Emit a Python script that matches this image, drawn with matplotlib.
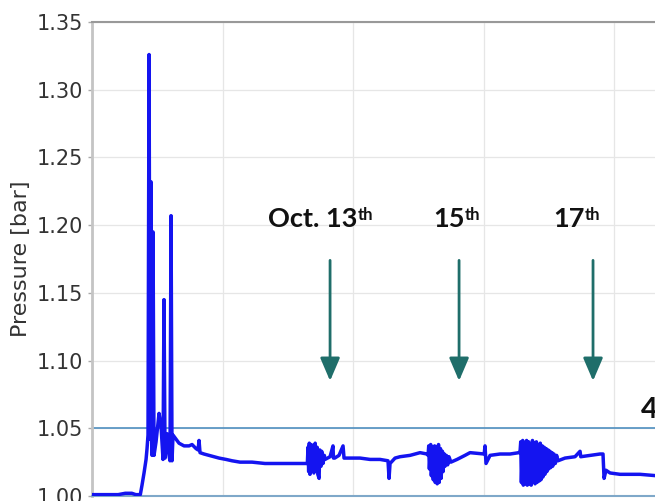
import matplotlib
matplotlib.use('Agg')
import matplotlib.pyplot as plt

# time in days from the start of the record, pressure in bar
start_days = [0.00, 0.28, 0.40, 0.51, 0.61, 0.67, 0.74, 0.766, 0.797, 0.828, 0.843,
              0.858, 0.874, 0.889, 0.904, 0.920, 0.935, 0.950, 0.981, 1.027, 1.057,
              1.088, 1.103, 1.119, 1.149, 1.180, 1.195, 1.211, 1.226, 1.241, 1.272,
              1.333, 1.410, 1.487, 1.533, 1.594, 1.625, 1.640, 1.655, 1.716, 1.793,
              1.870, 1.946, 2.054, 2.146, 2.268, 2.452, 2.651, 2.881, 3.065, 3.188,
              3.280]
start_bar = [1.001, 1.001, 1.001, 1.002, 1.002, 1.001, 1.001, 1.008, 1.017, 1.027, 1.035,
             1.045, 1.326, 1.042, 1.232, 1.030, 1.195, 1.030, 1.040, 1.061, 1.052,
             1.027, 1.145, 1.028, 1.046, 1.030, 1.026, 1.207, 1.026, 1.045, 1.043,
             1.039, 1.037, 1.037, 1.038, 1.035, 1.034, 1.041, 1.032, 1.031, 1.030,
             1.029, 1.028, 1.027, 1.026, 1.025, 1.025, 1.024, 1.024, 1.024, 1.024,
             1.024]

burst1_days = [3.30, 3.31, 3.32, 3.33, 3.34, 3.36, 3.37, 3.39, 3.40, 3.42, 3.43, 3.45,
               3.46, 3.48, 3.49, 3.51, 3.52, 3.54, 3.56]
burst1_bar = [1.024, 1.036, 1.018, 1.039, 1.016, 1.038, 1.019, 1.037, 1.017, 1.039,
              1.020, 1.036, 1.016, 1.013, 1.034, 1.022, 1.033, 1.024, 1.030]

mid1_days = [3.571, 3.648, 3.693, 3.700, 3.720, 3.785, 3.847, 3.862, 3.954, 4.107,
             4.261, 4.414, 4.536, 4.552, 4.567, 4.644, 4.720, 4.874, 5.027, 5.134]
mid1_bar = [1.027, 1.029, 1.037, 1.028, 1.028, 1.030, 1.037, 1.028, 1.028, 1.028,
            1.027, 1.027, 1.026, 1.013, 1.024, 1.028, 1.029, 1.030, 1.032, 1.031]

burst2_days = [5.15, 5.16, 5.17, 5.19, 5.20, 5.22, 5.23, 5.25, 5.26, 5.28, 5.29, 5.31,
               5.32, 5.34, 5.35, 5.37, 5.38, 5.40, 5.41, 5.43, 5.45, 5.47, 5.50]
burst2_bar = [1.030, 1.037, 1.020, 1.038, 1.015, 1.036, 1.012, 1.037, 1.010, 1.036,
              1.009, 1.038, 1.010, 1.035, 1.013, 1.033, 1.018, 1.031, 1.022, 1.030,
              1.023, 1.029, 1.025]

mid2_days = [5.594, 5.716, 5.793, 6.010, 6.023, 6.038, 6.100, 6.253, 6.406, 6.544]
mid2_bar = [1.027, 1.030, 1.032, 1.031, 1.037, 1.024, 1.030, 1.031, 1.031, 1.032]

burst3_days = [6.56, 6.57, 6.58, 6.60, 6.61, 6.63, 6.64, 6.66, 6.67, 6.69, 6.70, 6.72,
               6.73, 6.75, 6.76, 6.78, 6.79, 6.81, 6.82, 6.84, 6.85, 6.87, 6.88, 6.90,
               6.91, 6.93, 6.94, 6.96, 6.97, 6.99, 7.00, 7.02, 7.03, 7.05, 7.06, 7.08,
               7.10, 7.12, 7.14]
burst3_bar = [1.033, 1.040, 1.010, 1.041, 1.008, 1.039, 1.009, 1.041, 1.008, 1.040,
              1.009, 1.038, 1.008, 1.041, 1.010, 1.039, 1.009, 1.040, 1.010, 1.038,
              1.011, 1.039, 1.012, 1.037, 1.014, 1.036, 1.016, 1.035, 1.018, 1.034,
              1.020, 1.033, 1.021, 1.032, 1.022, 1.031, 1.024, 1.030, 1.026]

end_days = [7.249, 7.402, 7.479, 7.490, 7.632, 7.785, 7.831, 7.847, 7.877, 7.939,
            8.092, 8.398, 8.628, 9.500]
end_bar = [1.028, 1.029, 1.033, 1.029, 1.030, 1.031, 1.031, 1.013, 1.019, 1.017,
           1.016, 1.016, 1.015, 1.015]

days = start_days + burst1_days + mid1_days + burst2_days + mid2_days + burst3_days + end_days
pressure = start_bar + burst1_bar + mid1_bar + burst2_bar + mid2_bar + burst3_bar + end_bar

# event markers
event_days = [3.648, 5.625, 7.678]
event_labels = ['Oct. 13', '15', '17']
label_days = [2.70, 5.23, 7.07]
arrow_top = 1.174
arrow_tip = 1.085
label_base = 1.1986
limit_bar = 1.05

ARROW_COLOR = '#1f6e6a'

fig = plt.figure(figsize=(6.55, 5.01), dpi=100)
ax = fig.add_axes([0.1405, 0.010, 0.9962, 0.946])

ax.plot(days, pressure, color='#1414f0', lw=2.5, zorder=3)
ax.axhline(limit_bar, color='#4f8fc0', lw=1.2, zorder=2)

for d, lab, ld in zip(event_days, event_labels, label_days):
    ax.annotate('', xy=(d, arrow_tip), xytext=(d, arrow_top),
                arrowprops=dict(arrowstyle='-|>,head_width=0.6,head_length=1.4',
                                color=ARROW_COLOR, lw=2, shrinkA=0, shrinkB=0))
    t = ax.text(ld, label_base, lab, family='Lato', weight='bold', fontsize=19.5,
                color='#111111', va='baseline', ha='left')
    ax.annotate('th', xy=(1.0, 1.0), xycoords=t, family='Lato', weight='bold',
                fontsize=12, color='#111111', va='top', ha='left')

ax.text(8.41, 1.0575, '4', family='Lato', weight='bold', fontsize=21,
        color='#111111', va='baseline', ha='left')

ax.set_xlim(0, 10)
ax.set_ylim(1.00, 1.35)
ax.set_xticks([0, 2, 4, 6, 8, 10])
ax.set_yticks([1.00, 1.05, 1.10, 1.15, 1.20, 1.25, 1.30, 1.35])
ax.set_yticklabels(['%.2f' % v for v in ax.get_yticks()])
ax.tick_params(axis='x', labelbottom=False, length=0)
ax.tick_params(axis='y', labelsize=15, labelcolor='#333333', color='#aaaaaa',
               length=3, width=1)
ax.set_ylabel('Pressure [bar]', fontsize=16, color='#333333', labelpad=4)

ax.grid(True, color='#e6e6e6', lw=0.9)
ax.set_axisbelow(True)

ax.spines['top'].set_color('#999999')
ax.spines['top'].set_linewidth(1.5)
ax.spines['left'].set_color('#c4c4c4')
ax.spines['left'].set_linewidth(2)
ax.spines['bottom'].set_color('#7fa8c9')
ax.spines['bottom'].set_linewidth(1.5)
ax.spines['right'].set_visible(False)

fig.savefig('out.png', dpi=100)
